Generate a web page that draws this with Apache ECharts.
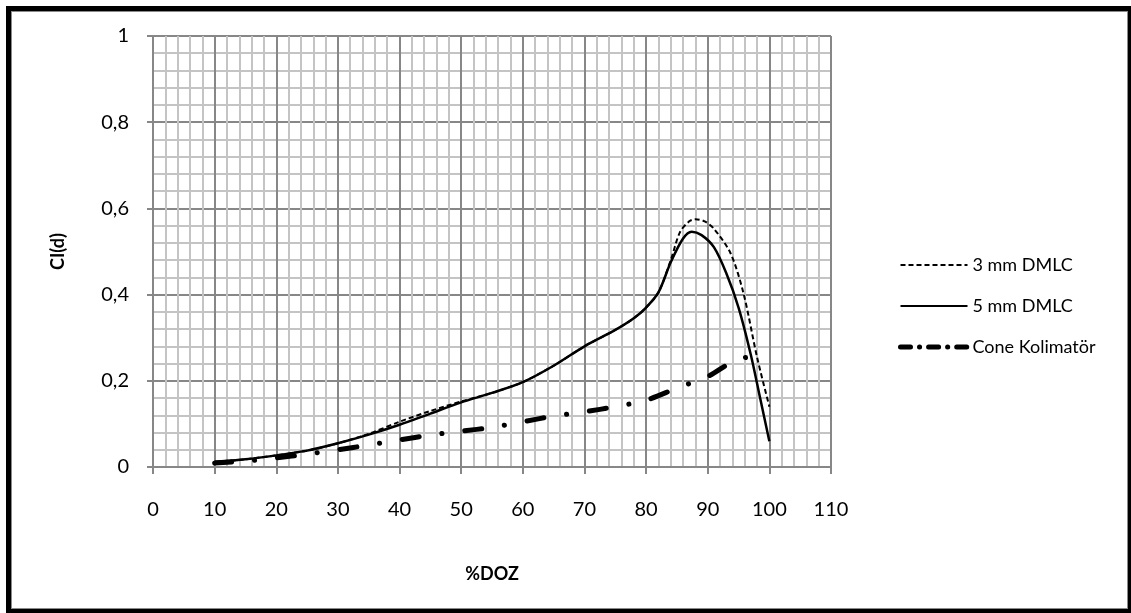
<!DOCTYPE html>
<html>
<head>
<meta charset="utf-8">
<script src="https://cdn.jsdelivr.net/npm/echarts@6/dist/echarts.min.js"></script>
<style>
  html, body { margin: 0; padding: 0; background: #fff; }
  #chart { position: absolute; left: 0; top: 0; width: 1131px; height: 613px; }
  #frame { position: absolute; left: 6px; top: 6px; width: 1117px; height: 598px;
           border: 5px solid #000; box-shadow: inset 0 0 0 1px #8a8a8a; pointer-events: none; }
</style>
</head>
<body>
<div id="chart"></div>
<div id="frame"></div>
<script>
// Conformity index CI(d) against isodose level (%DOZ)
const dmlc3X = [10, 15, 20, 25, 30, 35, 40, 45, 50, 55, 60, 65, 70, 75, 78, 80, 82, 84, 85.5, 87, 88, 89.5, 91, 93.7, 95.8, 98, 100];
const dmlc3Y = [0.012, 0.018, 0.027, 0.038, 0.055, 0.077, 0.105, 0.13, 0.152, 0.172, 0.197, 0.235, 0.28, 0.318, 0.345, 0.37, 0.405, 0.48, 0.545, 0.57, 0.575, 0.57, 0.553, 0.496, 0.403, 0.255, 0.14];

const dmlc5X = [10, 15, 20, 25, 30, 35, 40, 45, 50, 55, 60, 65, 70, 75, 78, 80, 82, 84, 86, 87.4, 89, 91, 93, 95, 97, 98.5, 100];
const dmlc5Y = [0.012, 0.018, 0.027, 0.038, 0.055, 0.075, 0.098, 0.124, 0.15, 0.172, 0.197, 0.235, 0.28, 0.318, 0.345, 0.37, 0.405, 0.475, 0.53, 0.546, 0.538, 0.51, 0.45, 0.37, 0.26, 0.16, 0.06];

const coneX = [10, 15, 20, 25, 30, 35, 40, 45, 50, 55, 60, 65, 70, 75, 80, 85, 90, 93, 95, 96.5, 98];
const coneY = [0.009, 0.014, 0.021, 0.03, 0.04, 0.051, 0.063, 0.074, 0.083, 0.092, 0.105, 0.118, 0.128, 0.14, 0.155, 0.183, 0.21, 0.236, 0.252, 0.254, 0.22];

const seriesNames = ['3 mm DMLC', '5 mm DMLC', 'Cone Kolimatör'];

const pairs = (xs, ys) => xs.map((x, i) => [x, ys[i]]);

const FONT = 'Lato, "Open Sans", sans-serif';
const MAJOR = '#878787';
const MINOR = '#c4c4c4';

const chart = echarts.init(document.getElementById('chart'), null, { renderer: 'canvas' });

chart.setOption({
  animation: false,
  backgroundColor: '#fff',
  grid: { left: 153, top: 36, width: 678, height: 431, containLabel: false },
  legend: {
    orient: 'vertical',
    left: 893,
    top: 251,
    icon: 'inherit',
    itemWidth: 67,
    itemHeight: 14,
    itemGap: 23,
    itemStyle: { opacity: 0 },
    textStyle: { fontFamily: FONT, fontSize: 18, color: '#000' },
    data: [
      { name: seriesNames[0] },
      { name: seriesNames[1] },
      { name: seriesNames[2], lineStyle: { width: 5, type: [10, 9, 0.1, 9], cap: 'round' } }
    ]
  },
  xAxis: {
    type: 'value',
    min: 0, max: 110, interval: 10,
    name: '%DOZ',
    nameLocation: 'middle',
    nameGap: 98,
    nameTextStyle: { fontFamily: FONT, fontSize: 18, fontWeight: 'bold', color: '#000' },
    axisLine: { show: true, onZero: false, lineStyle: { color: MAJOR, width: 2 } },
    axisTick: { show: true, length: 7, lineStyle: { color: MAJOR, width: 2 } },
    axisLabel: { margin: 33, fontFamily: FONT, fontSize: 20, color: '#000' },
    splitLine: { show: true, lineStyle: { color: MAJOR, width: 2 } },
    minorTick: { show: false, splitNumber: 5 },
    minorSplitLine: { show: true, lineStyle: { color: MINOR, width: 2 } }
  },
  yAxis: {
    type: 'value',
    min: 0, max: 1, interval: 0.2,
    name: 'CI(d)',
    nameLocation: 'middle',
    nameGap: 86,
    nameTextStyle: { fontFamily: FONT, fontSize: 18, fontWeight: 'bold', color: '#000' },
    axisLine: { show: true, lineStyle: { color: MAJOR, width: 2 } },
    axisTick: { show: true, length: 6, lineStyle: { color: MAJOR, width: 2 } },
    axisLabel: {
      margin: 24, fontFamily: FONT, fontSize: 20, color: '#000',
      formatter: v => String(+v.toFixed(1)).replace('.', ',')
    },
    splitLine: { show: true, lineStyle: { color: MAJOR, width: 2 } },
    minorTick: { show: false, splitNumber: 5 },
    minorSplitLine: { show: true, lineStyle: { color: MINOR, width: 2 } }
  },
  series: [
    {
      name: seriesNames[0], type: 'line', data: pairs(dmlc3X, dmlc3Y),
      smooth: 0.3, symbol: 'none', z: 3,
      lineStyle: { color: '#000', width: 2, type: [5, 3] },
      itemStyle: { color: '#000' }
    },
    {
      name: seriesNames[1], type: 'line', data: pairs(dmlc5X, dmlc5Y),
      smooth: 0.3, symbol: 'none', z: 4,
      lineStyle: { color: '#000', width: 2.5, type: 'solid' },
      itemStyle: { color: '#000' }
    },
    {
      name: seriesNames[2], type: 'line', data: pairs(coneX, coneY),
      smooth: 0.3, symbol: 'none', z: 2,
      lineStyle: { color: '#000', width: 5, type: [17, 23, 0.1, 23], cap: 'round' },
      itemStyle: { color: '#000' }
    }
  ]
});
</script>
</body>
</html>
